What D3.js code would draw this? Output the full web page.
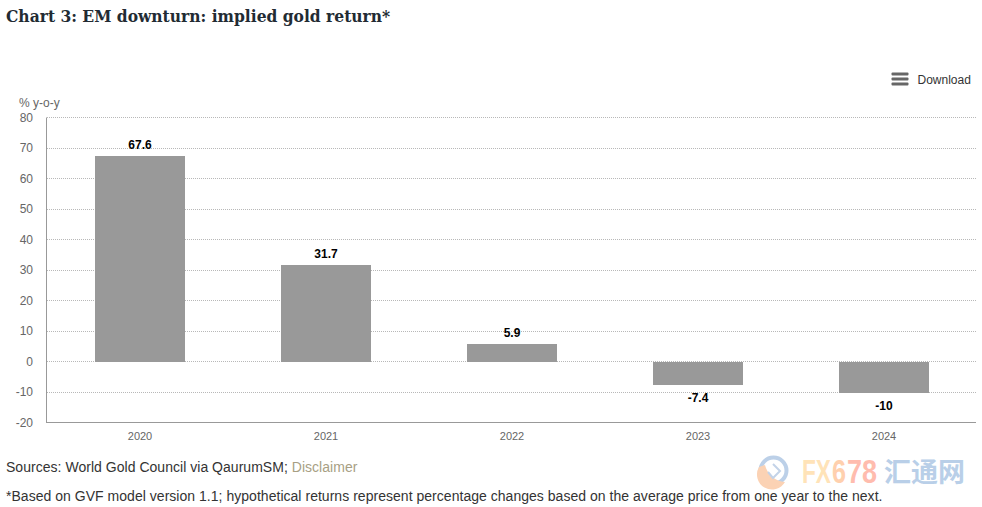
<!DOCTYPE html>
<html>
<head>
<meta charset="utf-8">
<script src="https://cdn.jsdelivr.net/npm/d3@7"></script>
<style>
html, body { margin: 0; padding: 0; background: #fff; }
svg { display: block; }
text { font-family: "Liberation Sans", Arial, sans-serif; }
</style>
</head>
<body>
<div id="chart"></div>
<script>
var years = ["2020", "2021", "2022", "2023", "2024"];
var returns = [67.6, 31.7, 5.9, -7.4, -10];
var yTicks = [-20, -10, 0, 10, 20, 30, 40, 50, 60, 70, 80];

var width = 982, height = 507;
var plotLeft = 47, plotRight = 977, plotTop = 117.5, plotBottom = 422.5;

var svg = d3.select("#chart").append("svg")
	.attr("width", width)
	.attr("height", height);

var x = d3.scaleBand().domain(years).range([plotLeft, plotRight]).paddingInner(96 / 186).paddingOuter(48 / 186);
var y = d3.scaleLinear().domain([-20, 80]).range([plotBottom, plotTop]);

// bars sit on whole pixels, half a pixel under the grid
function barY(v) {
	return Math.round(y(v) + 0.5);
}

// title
svg.append("text")
	.attr("x", 6).attr("y", 22)
	.attr("fill", "#222b33")
	.style("font-family", "'DejaVu Serif', serif")
	.style("font-weight", "bold")
	.style("font-stretch", "condensed")
	.style("font-size", "17.25px")
	.text("Chart 3: EM downturn: implied gold return*");

// download button
var menu = svg.append("g");
[74, 79, 84].forEach(function (d) {
	menu.append("rect").attr("x", 891.5).attr("y", d - 1.5).attr("width", 17).attr("height", 3).attr("rx", 1).attr("fill", "#666");
});
svg.append("text").attr("x", 917.5).attr("y", 84)
	.attr("fill", "#333").style("font-size", "12px").text("Download");

// unit label
svg.append("text").attr("x", 19).attr("y", 107)
	.attr("fill", "#666").style("font-size", "12px").text("% y-o-y");

// grid lines
svg.append("g").selectAll("line").data(yTicks.filter(function (d) { return d !== -20; }))
	.join("line")
	.attr("x1", plotLeft).attr("x2", plotRight - 1)
	.attr("y1", function (d) { return Math.floor(y(d)) + 0.5; })
	.attr("y2", function (d) { return Math.floor(y(d)) + 0.5; })
	.attr("stroke", "#b8b8b8")
	.attr("stroke-dasharray", "1,1");

// bars
svg.append("g").selectAll("rect").data(returns)
	.join("rect")
	.attr("x", function (d, i) { return x(years[i]); })
	.attr("width", x.bandwidth())
	.attr("y", function (d) { return barY(Math.max(d, 0)); })
	.attr("height", function (d) { return Math.abs(barY(d) - barY(0)); })
	.attr("fill", "#999");

// value labels
svg.append("g").selectAll("text").data(returns)
	.join("text")
	.attr("x", function (d, i) { return x(years[i]) + x.bandwidth() / 2; })
	.attr("y", function (d) { return d >= 0 ? barY(d) - 7 : barY(d) + 17; })
	.attr("text-anchor", "middle")
	.attr("fill", "#000")
	.style("font-size", "12px")
	.style("font-weight", "bold")
	.text(function (d) { return d; });

// axes
var yAxis = d3.axisLeft(y).tickValues(yTicks).tickSize(0).tickPadding(14).tickFormat(function (d) { return String(d); });
var yG = svg.append("g").attr("transform", "translate(" + plotLeft + ",0)").call(yAxis);
yG.select(".domain").attr("stroke", "#999").attr("d", "M-0.5," + plotTop + "V" + plotBottom);
yG.selectAll("text").attr("fill", "#666").attr("dy", "0.32em").style("font-size", "12px");

var xAxis = d3.axisBottom(x).tickSize(0).tickPadding(10);
var xG = svg.append("g").attr("transform", "translate(0," + plotBottom + ")").call(xAxis);
xG.select(".domain").attr("stroke", "#999").attr("d", "M" + (plotLeft - 1) + ",0H" + (plotRight - 1));
xG.selectAll("text").attr("fill", "#666").style("font-size", "11px");

// footer
var src = svg.append("text").attr("x", 6).attr("y", 472).attr("fill", "#333").style("font-size", "14px").style("letter-spacing", "0.03px");
src.append("tspan").text("Sources: World Gold Council via QaurumSM; ");
src.append("tspan").attr("fill", "#a89f84").text("Disclaimer");

svg.append("text").attr("x", 6).attr("y", 501).attr("fill", "#333").style("font-size", "14px").style("letter-spacing", "0.03px")
	.text("*Based on GVF model version 1.1; hypothetical returns represent percentage changes based on the average price from one year to the next.");

// watermark
var mark = svg.append("g");
mark.append("circle").attr("cx", 773.5).attr("cy", 470.5).attr("r", 13).attr("fill", "none").attr("stroke", "#bcd0e8").attr("stroke-width", 4);
mark.append("path").attr("d", "M759,467A15,15 0 0 0 785,482A22,22 0 0 1 765,465Z").attr("fill", "#fbd2b4");
mark.append("path").attr("d", "M773,464L780,471L773,478L768,472").attr("fill", "none").attr("stroke", "#c3d3e8").attr("stroke-width", 2);
[["FX", 802, 29, "#ffe3b8"], ["6", 832, 14, "#ffd0ae"], ["78", 847, 30, "#ffbcae"]].forEach(function (p) {
	mark.append("text").attr("x", p[1]).attr("y", 483)
		.attr("textLength", p[2]).attr("lengthAdjust", "spacingAndGlyphs")
		.attr("fill", p[3])
		.style("font-weight", "bold").style("font-size", "34px")
		.text(p[0]);
});
mark.append("text").attr("x", 884).attr("y", 482)
	.attr("fill", "#b9cfe8")
	.style("font-family", "'Noto Sans CJK SC', sans-serif")
	.style("font-weight", "bold").style("font-size", "27px")
	.text("汇通网");
</script>
</body>
</html>
